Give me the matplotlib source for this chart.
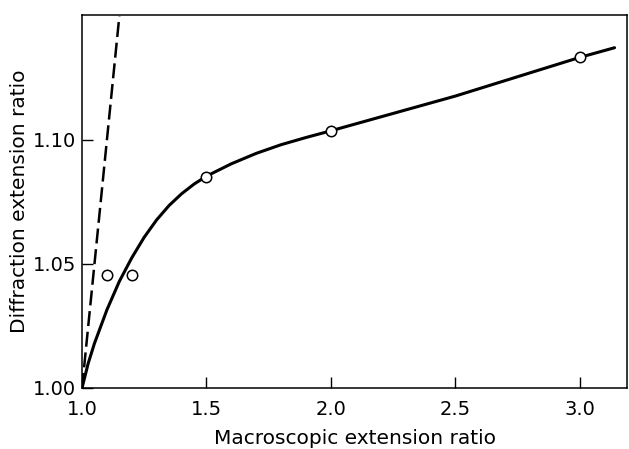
import matplotlib.pyplot as plt

# measured points (open circles)
macro_pts = [1.1, 1.2, 1.5, 2.0, 3.0]
diffr_pts = [1.0456, 1.0456, 1.085, 1.1036, 1.1333]

# smooth trend curve
curve_x = [1.0, 1.025, 1.05, 1.1, 1.15, 1.2, 1.25, 1.3, 1.35, 1.4, 1.45, 1.5,
           1.6, 1.7, 1.8, 1.9, 2.0, 2.25, 2.5, 2.75, 3.0, 3.14]
curve_y = [1.0, 1.010, 1.018, 1.0315, 1.043, 1.0525, 1.0608, 1.0678, 1.0736,
           1.0783, 1.0822, 1.0854, 1.0904, 1.0946, 1.0981, 1.1010, 1.1037,
           1.1107, 1.1177, 1.1255, 1.1333, 1.1372]

# affine deformation line (diffraction ratio = macroscopic ratio)
affine_x = [1.0, 1.15]
affine_y = [1.0, 1.15]

xticks = [1.0, 1.5, 2.0, 2.5, 3.0]
xticklabels = ["1.0", "1.5", "2.0", "2.5", "3.0"]
yticks = [1.00, 1.05, 1.10]
yticklabels = ["1.00", "1.05", "1.10"]

fig = plt.figure(figsize=(6.29, 4.49), dpi=100)
ax = fig.add_axes([0.1304, 0.1359, 0.8664, 0.8307])

ax.plot(affine_x, affine_y, color="black", lw=1.8, dashes=(6, 2.3),
        dash_capstyle="butt")
ax.plot(curve_x, curve_y, color="black", lw=2.2, solid_capstyle="round",
        solid_joinstyle="round")
ax.plot(macro_pts, diffr_pts, linestyle="none", marker="o", ms=7.5,
        mfc="white", mec="black", mew=1.1, zorder=5)

ax.set_xlim(1.0, 3.19)
ax.set_ylim(1.0, 1.1504)
ax.set_xticks(xticks)
ax.set_xticklabels(xticklabels)
ax.set_yticks(yticks)
ax.set_yticklabels(yticklabels)

ax.tick_params(direction="in", length=8, width=1.0, labelsize=14, pad=9)
ax.tick_params(axis="y", pad=4)
for s in ax.spines.values():
    s.set_linewidth(1.1)

ax.set_xlabel("Macroscopic extension ratio", fontsize=14.5, labelpad=7)
ax.set_ylabel("Diffraction extension ratio", fontsize=14.5, labelpad=3)

fig.savefig("out.png", dpi=100)
